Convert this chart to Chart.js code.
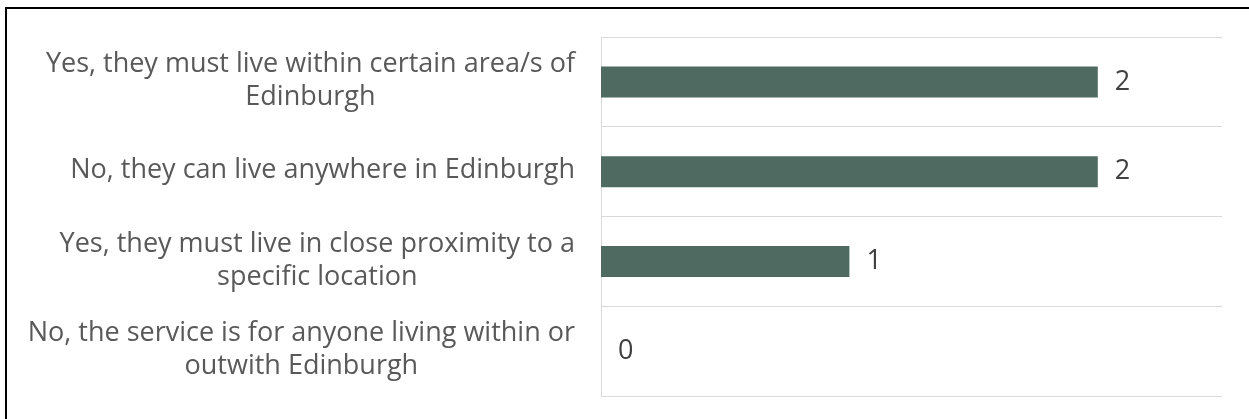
<!DOCTYPE html>
<html>
<head>
<meta charset="utf-8">
<script src="https://cdn.jsdelivr.net/npm/chart.js@4/dist/chart.umd.min.js"></script>
<style>
  html, body { margin: 0; padding: 0; background: #ffffff; }
  #wrap { position: relative; width: 1249px; height: 419px; overflow: hidden; }
  #frame { position: absolute; left: 5px; top: 7px; width: 1300px; height: 500px;
           border-top: 2px solid #000; border-left: 2px solid #000; pointer-events: none; }
  canvas { position: absolute; left: 0; top: 0; }
</style>
</head>
<body>
<div id="wrap">
  <canvas id="c" width="1249" height="419"></canvas>
  <div id="frame"></div>
</div>
<script>
const categories = [
  ["Yes, they must live within certain area/s of", "Edinburgh"],
  ["No, they can live anywhere in Edinburgh"],
  ["Yes, they must live in close proximity to a", "specific location"],
  ["No, the service is for anyone living within or", "outwith Edinburgh"]
];
const values = [2, 2, 1, 0];
const axisMax = 2.5;

const FONT = '"Open Sans", "Lato", sans-serif';

const labelPlugin = {
  id: 'labels',
  afterDraw(chart) {
    const ctx = chart.ctx;
    const ys = chart.scales.y;
    const rightEdge = 575;
    const lineH = 33;
    ctx.save();
    ctx.font = '27px ' + FONT;
    ctx.fillStyle = '#595959';
    ctx.textAlign = 'center';
    ctx.textBaseline = 'middle';
    categories.forEach((lines, i) => {
      const yc = ys.getPixelForValue(i) - 1;
      const widest = Math.max(...lines.map(l => ctx.measureText(l).width));
      const cx = rightEdge - widest / 2;
      lines.forEach((l, j) => {
        ctx.fillText(l, cx, yc + (j - (lines.length - 1) / 2) * lineH);
      });
    });
    const meta = chart.getDatasetMeta(0);
    ctx.fillStyle = '#404040';
    ctx.textAlign = 'left';
    meta.data.forEach((bar, i) => {
      ctx.fillText(String(values[i]), bar.x + 17, bar.y);
    });
    ctx.restore();
  }
};

new Chart(document.getElementById('c'), {
  type: 'bar',
  data: {
    labels: categories,
    datasets: [{
      data: values,
      backgroundColor: '#4E6A61',
      borderWidth: 0,
      inflateAmount: 0,
      barThickness: 31
    }]
  },
  options: {
    indexAxis: 'y',
    responsive: false,
    animation: false,
    layout: { padding: { left: 601, top: 37, right: 27, bottom: 23 } },
    plugins: { legend: { display: false }, tooltip: { enabled: false } },
    scales: {
      x: { display: false, min: 0, max: axisMax },
      y: {
        offset: true,
        ticks: { display: false },
        grid: { color: '#D9D9D9', lineWidth: 1, drawTicks: false, offset: true },
        border: { color: '#D9D9D9', width: 1 }
      }
    }
  },
  plugins: [labelPlugin]
});
</script>
</body>
</html>
